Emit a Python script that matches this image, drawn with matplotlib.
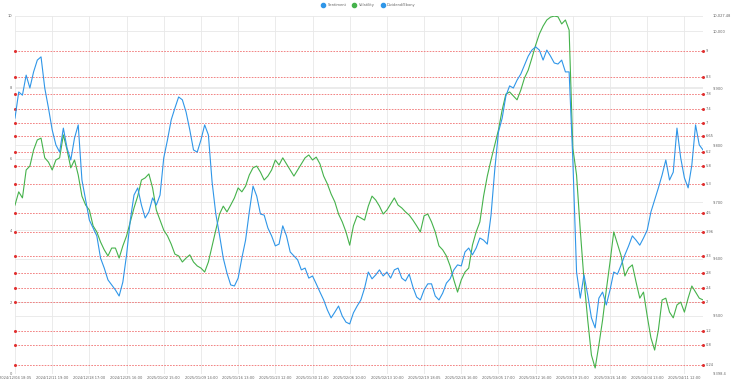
import matplotlib
matplotlib.use('Agg')
import matplotlib.pyplot as plt
from matplotlib.lines import Line2D
import numpy as np

# date labels shown every 10 samples
tick_labels = ['2024/12/04 18:05', '2024/12/11 19:00', '2024/12/18 17:00', '2024/12/25 16:00',
               '2025/01/02 15:00', '2025/01/09 14:00', '2025/01/16 13:00', '2025/01/23 12:00',
               '2025/01/30 11:00', '2025/02/06 10:00', '2025/02/13 10:00', '2025/02/19 18:05',
               '2025/02/26 16:00', '2025/03/05 17:00', '2025/03/12 16:00', '2025/03/19 15:00',
               '2025/03/26 14:00', '2025/04/04 13:00', '2025/04/11 12:00']
tick_step = 10

sentiment = [7.14, 7.87, 7.78, 8.34, 7.98, 8.43, 8.76, 8.85, 7.98, 7.42,
             6.81, 6.39, 6.19, 6.86, 6.30, 5.97, 6.58, 6.95, 5.41, 4.85,
             4.29, 4.07, 3.85, 3.23, 2.95, 2.62, 2.48, 2.34, 2.17, 2.56,
             3.32, 4.29, 4.99, 5.19, 4.71, 4.35, 4.52, 4.91, 4.71, 4.99,
             6.03, 6.53, 7.09, 7.42, 7.73, 7.65, 7.31, 6.81, 6.25, 6.19,
             6.53, 6.95, 6.67, 5.35, 4.46, 3.87, 3.23, 2.81, 2.48, 2.45,
             2.67, 3.23, 3.73, 4.52, 5.24, 4.96, 4.46, 4.43, 4.07, 3.85,
             3.57, 3.62, 4.13, 3.85, 3.40, 3.29, 3.18, 2.90, 2.95, 2.67,
             2.73, 2.51, 2.28, 2.06, 1.78, 1.56, 1.72, 1.89, 1.61, 1.44,
             1.39, 1.70, 1.89, 2.06, 2.39, 2.84, 2.65, 2.76, 2.90, 2.73,
             2.84, 2.67, 2.90, 2.95, 2.67, 2.59, 2.78, 2.42, 2.14, 2.06,
             2.34, 2.51, 2.51, 2.17, 2.06, 2.25, 2.53, 2.65, 2.90, 3.04,
             3.01, 3.40, 3.51, 3.32, 3.51, 3.79, 3.73, 3.62, 4.43, 5.69,
             6.75, 7.14, 7.76, 8.04, 7.98, 8.20, 8.37, 8.62, 8.87, 9.04,
             9.13, 9.04, 8.76, 9.04, 8.87, 8.68, 8.65, 8.76, 8.43, 8.43,
             5.97, 2.84, 2.11, 2.76, 2.20, 1.56, 1.28, 2.11, 2.28, 1.92,
             2.34, 2.84, 2.78, 3.04, 3.32, 3.57, 3.85, 3.73, 3.59, 3.79,
             4.01, 4.52, 4.85, 5.19, 5.55, 5.97, 5.41, 5.63, 6.86, 6.03,
             5.47, 5.19, 5.83, 6.95, 6.39, 6.25]

volatility = [4.71, 5.08, 4.91, 5.69, 5.80, 6.25, 6.53, 6.58, 6.03, 5.91,
              5.69, 5.97, 6.03, 6.67, 6.25, 5.75, 5.97, 5.55, 4.96, 4.71,
              4.57, 4.13, 3.96, 3.68, 3.46, 3.29, 3.51, 3.51, 3.23, 3.57,
              3.85, 4.24, 4.63, 4.96, 5.41, 5.47, 5.58, 5.19, 4.57, 4.29,
              4.01, 3.85, 3.62, 3.34, 3.29, 3.12, 3.23, 3.32, 3.12, 3.01,
              2.95, 2.84, 3.12, 3.57, 4.01, 4.46, 4.68, 4.52, 4.71, 4.91,
              5.19, 5.08, 5.24, 5.55, 5.75, 5.80, 5.63, 5.41, 5.52, 5.69,
              5.97, 5.83, 6.03, 5.86, 5.69, 5.52, 5.69, 5.86, 6.03, 6.11,
              5.97, 6.05, 5.86, 5.52, 5.30, 5.02, 4.80, 4.46, 4.24, 3.96,
              3.59, 4.13, 4.41, 4.35, 4.29, 4.68, 4.96, 4.85, 4.68, 4.46,
              4.57, 4.74, 4.91, 4.71, 4.63, 4.52, 4.43, 4.29, 4.13, 3.96,
              4.41, 4.46, 4.24, 3.96, 3.57, 3.46, 3.29, 3.01, 2.62, 2.28,
              2.62, 2.84, 2.95, 3.59, 3.96, 4.24, 4.96, 5.52, 5.97, 6.39,
              6.81, 7.37, 7.81, 7.87, 7.76, 7.65, 7.92, 8.26, 8.48, 8.82,
              9.18, 9.49, 9.71, 9.88, 9.96, 9.99, 9.97, 9.77, 9.88, 9.60,
              6.30, 5.55, 4.01, 2.62, 1.50, 0.52, 0.16, 0.80, 1.50, 2.34,
              3.12, 3.96, 3.62, 3.29, 2.73, 2.95, 3.04, 2.56, 2.11, 2.28,
              1.61, 1.00, 0.66, 1.22, 2.06, 2.11, 1.72, 1.56, 1.92, 2.00,
              1.72, 2.11, 2.45, 2.28, 2.11, 2.06]

# horizontal reference levels (left axis)
levels = [9, 8.3, 7.8, 7.4, 7, 6.65, 6.2, 5.8, 5.3, 4.5, 3.96, 3.3, 2.8, 2.4, 2, 1.2, 0.8, 0.24]

# right axis (price) range and ticks
price_min = 9398.4
price_max = 10027.48
price_ticks = [9398.4, 9500, 9600, 9700, 9800, 9900, 10000, 10027.48]

blue = '#2f96e8'
green = '#45b24b'
grid_c = '#e8e8e8'
txt_c = '#666666'
fs = 2.6

fig = plt.figure(figsize=(7.35, 3.8), dpi=100)
ax = fig.add_axes([15 / 735, 1 - 373.7 / 380, 688 / 735, (373.7 - 15.7) / 380])
n = len(sentiment)
x = np.arange(n)
xmax = n - 1

ax.set_xlim(0, xmax)
ax.set_ylim(0, 10)

ax2 = ax.twinx()
ax2.set_ylim(price_min, price_max)
ax2.set_yticks(price_ticks)
ax2.set_yticklabels(['{:,.1f}'.format(price_ticks[0])] +
                    ['{:,.0f}'.format(v) for v in price_ticks[1:-1]] +
                    ['{:,.2f}'.format(price_ticks[-1])])
ax2.tick_params(axis='y', length=0, pad=7, labelsize=fs, labelcolor=txt_c)
for v in price_ticks[1:-1]:
    ax2.axhline(v, color=grid_c, lw=0.6, zorder=0)
for s in ax2.spines.values():
    s.set_visible(False)

ax.set_zorder(ax2.get_zorder() + 1)
ax.patch.set_visible(False)

ax.set_yticks([0, 2, 4, 6, 8, 10])
ax.tick_params(axis='y', length=0, pad=2, labelsize=fs, labelcolor=txt_c)
ticks = list(range(0, n, tick_step))[:len(tick_labels)]
ax.set_xticks(ticks)
ax.set_xticklabels(tick_labels[:len(ticks)])
ax.tick_params(axis='x', length=0, pad=1.5, labelsize=fs, labelcolor=txt_c)
ax.grid(True, color=grid_c, lw=0.6)
ax.set_axisbelow(True)
for s in ax.spines.values():
    s.set_visible(False)

# reference levels with end markers and labels
for lv in levels:
    ax.plot([0, xmax], [lv, lv], color='#f07070', lw=0.6, ls=(0, (2, 1.5)),
            marker='o', ms=1.2, mec='#e03030', mfc='#e03030', zorder=2, clip_on=False)
    lab = ('%g' % lv)
    ax.annotate(lab, xy=(1, lv), xycoords=('axes fraction', 'data'), xytext=(2, 0),
                textcoords='offset points', va='center', ha='left', fontsize=fs, color=txt_c)

ax.plot(x, volatility, color=green, lw=0.8, zorder=3)
ax.plot(x, sentiment, color=blue, lw=0.8, zorder=4)

handles = [Line2D([], [], ls='none', marker='o', ms=3, color=blue),
           Line2D([], [], ls='none', marker='o', ms=3, color=green),
           Line2D([], [], ls='none', marker='o', ms=3, color=blue)]
fig.legend(handles, ['Sentiment', 'Volatility', 'Dividend/Ebony'], loc='upper center',
           bbox_to_anchor=(0.5, 1.0), ncol=3, frameon=False, fontsize=fs,
           handletextpad=0.2, columnspacing=1.2, labelcolor=txt_c)

fig.savefig('out.png', dpi=100)
